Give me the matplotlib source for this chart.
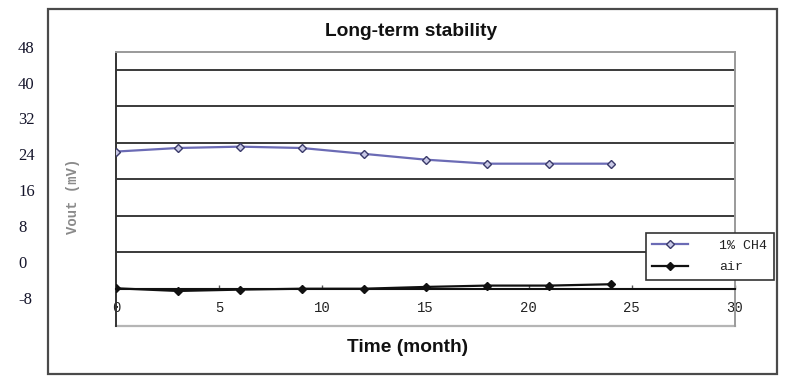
import matplotlib
matplotlib.use("Agg")
import matplotlib.pyplot as plt
from matplotlib.patches import Rectangle
from matplotlib.lines import Line2D
import numpy as np

# ---- data ----
months = [0, 3, 6, 9, 12, 15, 18, 21, 24]
ch4 = [24.6, 25.4, 25.7, 25.4, 24.1, 22.8, 21.9, 21.9, 21.9]
air = [-5.9, -6.5, -6.2, -6.0, -6.0, -5.6, -5.3, -5.3, -5.0]
x_ticks = [0, 5, 10, 15, 20, 25, 30]
y_tick_labels = [48, 40, 32, 24, 16, 8, 0, -8]
series_names = ["1% CH4", "air"]

W, H = 795, 384
fig = plt.figure(figsize=(W / 100, H / 100), dpi=100)
fig.patch.set_facecolor("white")

def fx(px):
    return px / W

def fy(py):
    return 1 - py / H

# outer frame
fig.patches.append(Rectangle((fx(48), fy(374)), fx(777) - fx(48), fy(9) - fy(374),
                             transform=fig.transFigure, fill=False,
                             edgecolor="#4a4a4a", linewidth=1.6))

ppu = 4.482            # pixels per unit

def val(py):
    return 48 - (py - 46.7) / ppu

# main axes
ax = fig.add_axes([fx(116), fy(326), fx(735) - fx(116), fy(52) - fy(326)])
ax.set_xlim(0, 30)
ax.set_ylim(val(326), val(52))

grid_vals = -6 + 8.14 * np.arange(7)
ax.set_yticks(grid_vals)
ax.set_yticklabels([])
ax.tick_params(axis="y", length=0)
ax.yaxis.grid(True, color="#3a3a3a", linewidth=1.4)
ax.set_axisbelow(True)

ax.spines["bottom"].set_position(("data", -6))
ax.spines["bottom"].set_color("#111111")
ax.spines["bottom"].set_linewidth(1.5)
ax.spines["left"].set_color("#333333")
ax.spines["left"].set_linewidth(1.4)
ax.spines["top"].set_color("#9a9a9a")
ax.spines["top"].set_linewidth(1.4)
ax.spines["right"].set_color("#9a9a9a")
ax.spines["right"].set_linewidth(1.4)
ax.add_line(Line2D([0, 1], [0, 0], transform=ax.transAxes, color="#b5b5b5",
                   linewidth=1.6, clip_on=False))

ax.set_xticks(x_ticks)
ax.set_xticklabels([str(t) for t in x_ticks], family="Liberation Mono",
                   fontsize=10, color="#222222")
ax.tick_params(axis="x", direction="in", length=3, width=1, color="#555555", pad=9)

ax.plot(months, ch4, color="#6b6bb5", linewidth=1.6, marker="D", markersize=4,
        markerfacecolor="#c8c8e6", markeredgecolor="#3a3a6a", markeredgewidth=1,
        label=series_names[0], zorder=3)
ax.plot(months, air, color="#111111", linewidth=1.6, marker="D", markersize=4,
        markerfacecolor="#111111", markeredgecolor="#111111",
        label=series_names[1], zorder=3)

leg = ax.legend(loc="upper right", bbox_to_anchor=(fx(774), fy(233)),
                bbox_transform=fig.transFigure, borderaxespad=0,
                fancybox=False, framealpha=1,
                edgecolor="#333333", handlelength=2.7, handletextpad=2.4,
                borderpad=0.5, labelspacing=0.7,
                prop={"family": "Liberation Mono", "size": 9.5})
leg.get_frame().set_linewidth(1.2)
for t in leg.get_texts():
    t.set_color("#222222")

# label axis with outside tick labels
lax = fig.add_axes([fx(18), 0, 0.0001, 1])
lax.set_ylim(val(384), val(0))
lax.set_yticks(y_tick_labels)
lax.set_yticklabels([str(v) for v in y_tick_labels], family="Liberation Serif",
                    fontsize=12, color="#14142a")
lax.yaxis.tick_right()
lax.tick_params(axis="y", length=0, pad=0)
lax.set_xticks([])
for s in lax.spines.values():
    s.set_visible(False)
lax.patch.set_visible(False)

# texts
fig.text(fx(411), fy(31), "Long-term stability", ha="center", va="center",
         family="Liberation Sans", fontweight="bold", fontsize=13.8, color="#111111")
fig.text(fx(408), fy(348), "Time (month)", ha="center", va="center",
         family="Liberation Sans", fontweight="bold", fontsize=13.8, color="#111111")
fig.text(fx(73), fy(196), "Vout (mV)", ha="center", va="center", rotation=90,
         family="Liberation Mono", fontweight="bold", fontsize=10, color="#8a8a8a")

fig.savefig("out.png", dpi=100)
